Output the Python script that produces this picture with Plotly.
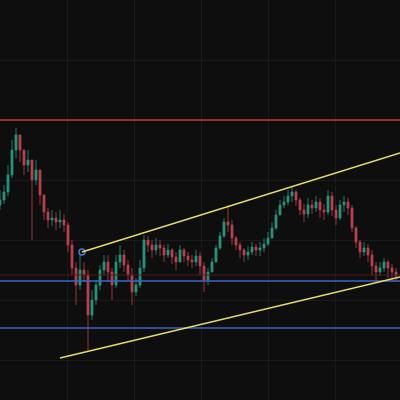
import plotly.graph_objects as go

# positions along time (pixel-like index units) and prices (axis reversed, chart units)
t = list(range(0, 400, 4))
closes = [200,192,175,150,135,150,165,160,180,170,195,212,220,218,222,220,225,245,268,285,
          270,275,315,300,285,270,262,272,285,262,255,265,275,292,285,268,240,245,250,245,
          248,255,250,257,262,250,256,260,262,256,266,280,272,262,248,236,222,225,238,245,
          250,255,252,247,250,248,244,238,228,215,205,202,196,192,200,210,214,205,208,202,
          210,212,196,210,218,205,202,208,228,242,252,248,255,266,272,268,262,268,272,276]
opens = [205] + closes[:-1]
highs = [190,185,165,140,128,135,150,150,160,160,170,195,208,210,212,210,214,222,240,262,
         252,262,270,290,280,265,255,255,268,255,245,250,260,268,278,260,235,236,240,238,
         240,245,244,248,252,245,248,252,255,250,252,262,268,258,245,232,218,205,220,236,
         242,248,246,242,244,242,238,232,222,210,200,196,190,186,190,198,204,198,200,196,
         198,204,190,192,205,200,196,198,205,226,240,242,244,250,262,262,258,260,264,268]
lows = [210,204,196,178,158,162,175,172,240,185,205,220,228,226,230,228,232,252,275,305,
        290,282,350,320,305,290,275,282,300,288,268,272,282,305,296,288,272,252,258,255,
        256,262,258,264,270,262,262,266,268,266,275,292,285,272,262,250,238,232,245,250,
        258,262,260,255,256,256,252,246,238,230,215,208,205,202,206,215,222,218,214,212,
        218,220,215,216,225,220,212,215,232,248,258,256,262,275,282,276,272,278,282,282]

h_red = 120
h_darkred = 275
h_blue = [281, 328]
upper_trend = ([82, 400], [252, 153])
lower_trend = ([60, 400], [358, 277])

fig = go.Figure()
fig.add_trace(go.Candlestick(x=t, open=opens, high=highs, low=lows, close=closes,
    increasing=dict(line=dict(color="#b8424d", width=0.8), fillcolor="#b8424d"),
    decreasing=dict(line=dict(color="#27957d", width=0.8), fillcolor="#27957d"),
    whiskerwidth=0, showlegend=False))

def hline(y, color, width=1.5):
    fig.add_shape(type="line", xref="paper", x0=0, x1=1, y0=y, y1=y,
                  line=dict(color=color, width=width))

hline(h_red, "#c8383c")
hline(h_darkred, "#4a1c22", 1)
for y in h_blue:
    hline(y, "#3c64c8")
for xs, ys in (upper_trend, lower_trend):
    fig.add_shape(type="line", x0=xs[0], x1=xs[1], y0=ys[0], y1=ys[1],
                  line=dict(color="#e6dc6e", width=1.5))
fig.add_trace(go.Scatter(x=[upper_trend[0][0]], y=[upper_trend[1][0]], mode="markers",
    marker=dict(size=6, color="#101018", line=dict(color="#4a78d8", width=1.5)),
    showlegend=False))

fig.update_layout(width=400, height=400, margin=dict(l=0, r=0, t=0, b=0, pad=0),
    paper_bgcolor="#0e0e0e", plot_bgcolor="#0e0e0e",
    xaxis=dict(range=[0, 400], showticklabels=False, gridcolor="#1a1a1a", dtick=67,
               zeroline=False, rangeslider=dict(visible=False)),
    yaxis=dict(range=[400, 0], showticklabels=False, gridcolor="#1a1a1a", dtick=60,
               zeroline=False))
fig.write_html("out.html", config={"displayModeBar": False},
               post_script="document.body.style.margin='0';document.body.style.background='#0e0e0e';")
